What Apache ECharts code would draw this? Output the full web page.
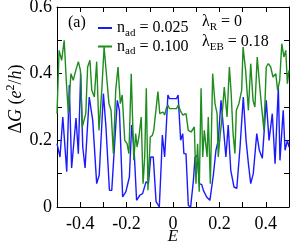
<!DOCTYPE html>
<html><head><meta charset="utf-8">
<script src="https://cdn.jsdelivr.net/npm/echarts@6/dist/echarts.min.js"></script>
<style>html,body{margin:0;padding:0;background:#fff}#c{width:291px;height:244px}</style>
</head><body><div id="c"></div>
<script>
// Blue series: n_ad = 0.025  [E, ΔG]
var blueE = [-0.500,-0.487,-0.475,-0.458,-0.447,-0.437,-0.418,-0.408,-0.398,-0.389,-0.379,-0.361,-0.346,-0.329,-0.318,-0.300,-0.289,-0.274,-0.264,-0.240,-0.231,-0.217,-0.203,-0.188,-0.178,-0.168,-0.157,-0.142,-0.131,-0.116,-0.106,-0.096,-0.085,-0.073,-0.059,-0.050,-0.046,-0.036,-0.029,-0.022,-0.015,-0.005,0.005,0.015,0.022,0.033,0.042,0.047,0.056,0.066,0.076,0.088,0.095,0.105,0.113,0.124,0.131,0.145,0.159,0.174,0.185,0.195,0.207,0.217,0.228,0.238,0.249,0.263,0.275,0.289,0.303,0.315,0.325,0.335,0.346,0.361,0.372,0.385,0.402,0.414,0.428,0.440,0.454,0.461,0.475,0.483,0.493,0.500];
var blueG = [0.19,0.15,0.27,0.106,0.366,0.117,0.267,0.16,0.40,0.18,0.117,0.33,0.26,0.07,0.096,0.34,0.24,0.05,0.05,0.32,0.29,0.03,0.046,0.09,0.246,0.176,0.02,0.036,0.04,0.076,0.07,0.15,0.15,0.016,0.0,0.14,0.216,0.15,0.24,0.336,0.325,0.325,0.325,0.325,0.336,0.20,0.22,0.16,0.16,0.005,0.0,0.08,0.15,0.155,0.07,0.067,0.05,0.03,0.02,0.096,0.17,0.20,0.32,0.24,0.15,0.246,0.11,0.06,0.056,0.18,0.33,0.20,0.13,0.07,0.10,0.22,0.17,0.146,0.32,0.20,0.28,0.13,0.36,0.14,0.29,0.17,0.20,0.18];
// Green series: n_ad = 0.100
var greenE = [-0.500,-0.491,-0.480,-0.469,-0.460,-0.451,-0.440,-0.430,-0.419,-0.408,-0.399,-0.391,-0.376,-0.368,-0.358,-0.350,-0.339,-0.329,-0.319,-0.307,-0.297,-0.286,-0.276,-0.267,-0.257,-0.247,-0.237,-0.227,-0.219,-0.208,-0.198,-0.190,-0.180,-0.169,-0.161,-0.155,-0.147,-0.137,-0.129,-0.122,-0.115,-0.108,-0.098,-0.089,-0.083,-0.075,-0.065,-0.057,-0.050,-0.043,-0.036,-0.029,-0.022,-0.015,-0.005,0.005,0.015,0.023,0.031,0.042,0.056,0.066,0.078,0.085,0.092,0.099,0.106,0.113,0.121,0.128,0.135,0.147,0.152,0.161,0.171,0.181,0.190,0.195,0.204,0.210,0.221,0.233,0.243,0.250,0.259,0.267,0.273,0.284,0.296,0.302,0.313,0.325,0.335,0.345,0.353,0.363,0.374,0.382,0.392,0.402,0.411,0.421,0.431,0.443,0.451,0.460,0.469,0.478,0.486,0.493,0.500];
var greenG = [0.28,0.47,0.44,0.50,0.38,0.28,0.40,0.38,0.41,0.436,0.41,0.24,0.28,0.42,0.44,0.35,0.33,0.436,0.23,0.35,0.48,0.39,0.31,0.29,0.16,0.35,0.42,0.31,0.336,0.20,0.19,0.16,0.40,0.14,0.22,0.18,0.21,0.27,0.07,0.15,0.356,0.05,0.21,0.215,0.23,0.225,0.346,0.28,0.276,0.285,0.276,0.296,0.306,0.295,0.295,0.295,0.295,0.306,0.29,0.276,0.28,0.23,0.225,0.22,0.24,0.07,0.19,0.046,0.356,0.15,0.23,0.15,0.27,0.07,0.40,0.31,0.28,0.15,0.22,0.26,0.36,0.27,0.42,0.35,0.22,0.16,0.29,0.31,0.35,0.48,0.41,0.29,0.43,0.32,0.30,0.45,0.36,0.30,0.23,0.42,0.43,0.42,0.39,0.40,0.35,0.38,0.49,0.45,0.47,0.37,0.41];
var xLabels = ['-0.4','-0.2','0','0.2','0.4'];
var yLabels = ['0','0.2','0.4','0.6'];

function pairs(a,b){return a.map(function(v,i){return [v,b[i]];});}
var serif = '"Liberation Serif","DejaVu Serif",serif';
var chart = echarts.init(document.getElementById('c'));
function fmtX(v){var s=(Math.round(v*10)/10); var t = s===0?'0':String(s); return xLabels.indexOf(t)>=0?t:'';}
function fmtY(v){var s=(Math.round(v*10)/10); var t = s===0?'0':String(s); return yLabels.indexOf(t)>=0?t:'';}
var axisCommon = {
  axisLine:{show:true,onZero:false,lineStyle:{color:'#000',width:1}},
  axisTick:{show:true,inside:true,length:5,lineStyle:{color:'#000'}},
  splitLine:{show:false}
};
var subRich = {n:{font:'16px '+serif,fill:'#000'},s:{font:'11px '+serif,fill:'#000',padding:[10,0,0,0]}};
chart.setOption({
  animation:false,
  grid:{left:57,right:2,top:7,bottom:37,containLabel:false,outerBoundsMode:'none'},
  legend:{
    orient:'vertical', left:93, top:15, itemGap:0, itemWidth:14, itemHeight:2, icon:'rect',
    data:['n_ad = 0.025','n_ad = 0.100'],
    formatter:function(n){return '{n|n}{s|ad}{n| = '+n.split('= ')[1]+'}';},
    textStyle:{fontFamily:serif,fontSize:16,color:'#000',padding:[0,0,0,0],
      rich:{n:{fontFamily:serif,fontSize:16,color:'#000'},s:{fontFamily:serif,fontSize:11,color:'#000',padding:[10,0,0,0]}}}
  },
  xAxis:[Object.assign({type:'value',min:-0.5,max:0.5,interval:0.1,
    axisLabel:{formatter:fmtX,fontFamily:serif,fontSize:18,color:'#000',margin:8}},axisCommon),
    Object.assign({type:'value',min:-0.5,max:0.5,interval:0.1,position:'top',axisLabel:{show:false}},axisCommon)],
  yAxis:[Object.assign({type:'value',min:0,max:0.6,interval:0.1,
    axisLabel:{formatter:fmtY,fontFamily:serif,fontSize:18,color:'#000',margin:5}},axisCommon),
    Object.assign({type:'value',min:0,max:0.6,interval:0.1,position:'right',axisLabel:{show:false}},axisCommon)],
  graphic:[
    {type:'text',x:173,y:237,style:{text:'E',font:'italic 17px '+serif,fill:'#000',align:'center',verticalAlign:'middle'}},
    {type:'text',x:16,y:99,rotation:Math.PI/2,style:{
      text:'{n|Δ}{i|G}{n| (}{i|e}{sup|2}{n|/}{i|h}{n|)}',align:'center',verticalAlign:'middle',
      rich:{n:{font:'18px '+serif,fill:'#000'},i:{font:'italic 18px '+serif,fill:'#000'},
        sup:{font:'12px '+serif,fill:'#000',padding:[0,0,11,0]}}}},
    {type:'text',left:68,top:15,style:{text:'(a)',font:'16px '+serif,fill:'#000'}},
    {type:'text',left:202,top:14,style:{text:'{n|λ}{s|R}{n| = 0}',rich:subRich}},
    {type:'text',left:202,top:34,style:{text:'{n|λ}{s|EB}{n| = 0.18}',rich:subRich}}
  ],
  series:[
    {name:'n_ad = 0.025',type:'line',data:pairs(blueE,blueG),symbol:'none',lineStyle:{color:'#1a1aff',width:1.4},itemStyle:{color:'#1a1aff'}},
    {name:'n_ad = 0.100',type:'line',data:pairs(greenE,greenG),symbol:'none',lineStyle:{color:'#1e8c1e',width:1.4},itemStyle:{color:'#1e8c1e'}}
  ]
});
</script></body></html>
